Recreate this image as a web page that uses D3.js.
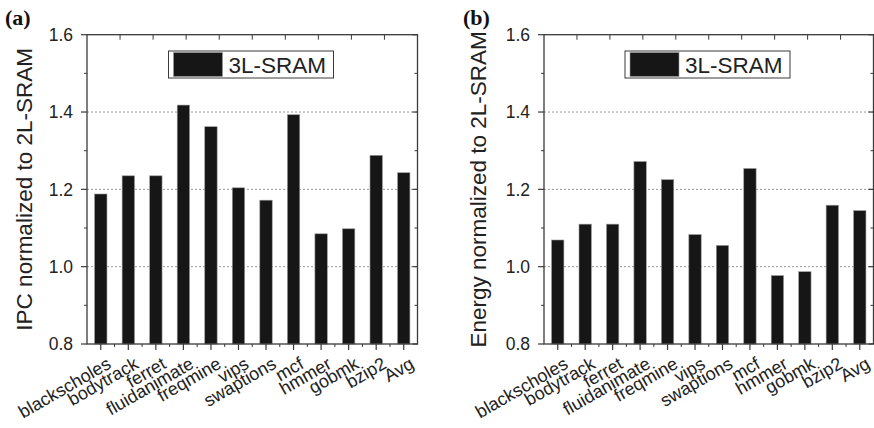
<!DOCTYPE html>
<html>
<head>
<meta charset="utf-8">
<script src="https://d3js.org/d3.v7.min.js"></script>
<style>
  body { margin: 0; background: #fff; }
  svg { display: block; font-family: 'Liberation Sans', Arial, sans-serif; }
</style>
</head>
<body>
<svg width="874" height="428"></svg>
<script>
const benchmarks = ["blackscholes", "bodytrack", "ferret", "fluidanimate", "freqmine", "vips",
                    "swaptions", "mcf", "hmmer", "gobmk", "bzip2", "Avg"];
const ipcValues = [1.188, 1.235, 1.235, 1.418, 1.362, 1.204, 1.172, 1.393, 1.085, 1.098, 1.288, 1.243];
const energyValues = [1.069, 1.110, 1.110, 1.272, 1.225, 1.083, 1.055, 1.254, 0.977, 0.987, 1.159, 1.145];
const yTicks = [0.8, 1.0, 1.2, 1.4, 1.6];
const yMinorTicks = [0.9, 1.1, 1.3, 1.5];
const gridTicks = [1.0, 1.2, 1.4];
const seriesName = "3L-SRAM";

const svg = d3.select("svg");
const plotTop = 34.7, plotBottom = 344;
const barColor = "#161616";
const axisColor = "#3a3a3a";

function panel(opts) {
  const g = svg.append("g");
  const x0 = opts.x0, x1 = opts.x1;

  const x = d3.scaleBand().domain(benchmarks).range([x0, x1]).padding(0);
  const y = d3.scaleLinear().domain([0.8, 1.6]).range([plotBottom, plotTop]);
  const bw = x.bandwidth() * 0.45;

  // grid
  g.selectAll(".grid").data(gridTicks).enter().append("line")
    .attr("x1", x0).attr("x2", x1)
    .attr("y1", d => y(d)).attr("y2", d => y(d))
    .attr("stroke", "#999").attr("stroke-width", 1)
    .attr("stroke-dasharray", "2,2");

  // bars
  g.selectAll(".bar").data(opts.values).enter().append("rect")
    .attr("x", (d, i) => x(benchmarks[i]) + (x.bandwidth() - bw) / 2)
    .attr("y", d => y(d))
    .attr("width", bw)
    .attr("height", d => y(0.8) - y(d))
    .attr("fill", barColor)
    .attr("stroke", "#9a9a9a").attr("stroke-width", 0.6);

  // frame
  g.append("rect")
    .attr("x", x0).attr("y", plotTop)
    .attr("width", x1 - x0).attr("height", plotBottom - plotTop)
    .attr("fill", "none").attr("stroke", axisColor).attr("stroke-width", 1.3);

  // left axis ticks (outward)
  g.selectAll(".lt").data(yTicks).enter().append("line")
    .attr("x1", x0 - 6).attr("x2", x0)
    .attr("y1", d => y(d)).attr("y2", d => y(d))
    .attr("stroke", axisColor).attr("stroke-width", 1.2);
  g.selectAll(".lmt").data(yMinorTicks).enter().append("line")
    .attr("x1", x0 - 3).attr("x2", x0)
    .attr("y1", d => y(d)).attr("y2", d => y(d))
    .attr("stroke", axisColor).attr("stroke-width", 1);

  // right axis ticks (inward)
  g.selectAll(".rt").data(yTicks).enter().append("line")
    .attr("x1", x1 - 5).attr("x2", x1)
    .attr("y1", d => y(d)).attr("y2", d => y(d))
    .attr("stroke", axisColor).attr("stroke-width", 1.2);
  g.selectAll(".rmt").data(yMinorTicks).enter().append("line")
    .attr("x1", x1 - 3).attr("x2", x1)
    .attr("y1", d => y(d)).attr("y2", d => y(d))
    .attr("stroke", axisColor).attr("stroke-width", 1);

  // top axis ticks (inward, evenly spaced)
  const xt = d3.scaleLinear().domain([0, 10]).range([x0, x1]);
  g.selectAll(".tt").data(d3.range(1, 10)).enter().append("line")
    .attr("x1", d => xt(d)).attr("x2", d => xt(d))
    .attr("y1", plotTop).attr("y2", plotTop + 5)
    .attr("stroke", axisColor).attr("stroke-width", 1);

  // bottom ticks: major at bar centres, minor at band edges
  g.selectAll(".bt").data(benchmarks).enter().append("line")
    .attr("x1", d => x(d) + x.bandwidth() / 2).attr("x2", d => x(d) + x.bandwidth() / 2)
    .attr("y1", plotBottom).attr("y2", plotBottom + 6)
    .attr("stroke", axisColor).attr("stroke-width", 1.2);
  g.selectAll(".bmt").data(benchmarks.slice(1)).enter().append("line")
    .attr("x1", d => x(d)).attr("x2", d => x(d))
    .attr("y1", plotBottom).attr("y2", plotBottom + 3)
    .attr("stroke", axisColor).attr("stroke-width", 1);

  // y tick labels
  g.selectAll(".yl").data(yTicks).enter().append("text")
    .attr("x", x0 - 14).attr("y", d => y(d))
    .attr("dy", "0.36em")
    .attr("text-anchor", "end")
    .attr("font-size", 17.5).attr("fill", "#222")
    .text(d => d.toFixed(1));

  // x labels
  g.selectAll(".xl").data(benchmarks).enter().append("text")
    .attr("transform", d => `translate(${x(d) + x.bandwidth() / 2 + 5},${plotBottom + 12}) rotate(-30)`)
    .attr("dy", "0.72em")
    .attr("text-anchor", "end")
    .attr("font-size", 18).attr("fill", "#222")
    .text(d => d);

  // y title
  g.append("text")
    .attr("transform", `translate(${opts.titleX},${(plotTop + plotBottom) / 2}) rotate(-90)`)
    .attr("dy", "0.36em")
    .attr("text-anchor", "middle")
    .attr("font-size", 22.5).attr("fill", "#222")
    .text(opts.title);

  // legend
  const lx = opts.legendX;
  g.append("rect")
    .attr("x", lx).attr("y", 51).attr("width", 165).attr("height", 27)
    .attr("fill", "#fff").attr("stroke", axisColor).attr("stroke-width", 1);
  g.append("rect")
    .attr("x", lx + 5).attr("y", 52.5).attr("width", 49).attr("height", 24)
    .attr("fill", barColor).attr("stroke", "#9a9a9a").attr("stroke-width", 0.6);
  g.append("text")
    .attr("x", lx + 60).attr("y", 73)
    .attr("font-size", 22.5).attr("fill", "#222")
    .text(seriesName);

  // panel label
  g.append("text")
    .attr("x", opts.labelX).attr("y", 25)
    .attr("font-family", "'Liberation Serif', 'Times New Roman', serif")
    .attr("font-weight", "bold")
    .attr("font-size", 22).attr("fill", "#111")
    .text(opts.label);
}

panel({ x0: 87, x1: 417.5, values: ipcValues, title: "IPC normalized to 2L-SRAM",
        titleX: 24, legendX: 168.5, label: "(a)", labelX: 5 });
panel({ x0: 544, x1: 873.5, values: energyValues, title: "Energy normalized to 2L-SRAM",
        titleX: 478, legendX: 625, label: "(b)", labelX: 463 });
</script>
</body>
</html>
